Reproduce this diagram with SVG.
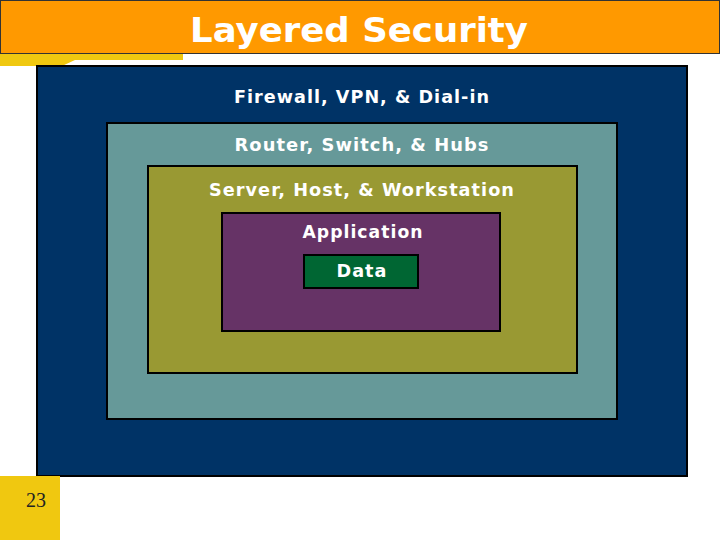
<svg xmlns="http://www.w3.org/2000/svg" width="720" height="540" viewBox="0 0 720 540">
<style>
.lbl{font-family:"DejaVu Sans","Verdana",sans-serif;font-weight:bold;font-size:17px;fill:#ffffff;text-anchor:middle;letter-spacing:1px}
.box{stroke:#000;stroke-width:2}
</style>
<rect width="720" height="540" fill="#ffffff"/>
<g id="header">
<rect x="0.5" y="0.5" width="719" height="53" fill="#ff9900" stroke="#333" stroke-width="1"/>
<polygon points="0,54 183,54 183,60 75,60 62,66 0,66" fill="#f0c810"/>
<text x="359" y="42" font-family="DejaVu Sans, Verdana, sans-serif" font-weight="bold" font-size="33" fill="#ffffff" text-anchor="middle" textLength="338" lengthAdjust="spacingAndGlyphs">Layered Security</text>
</g>
<g id="firewall">
<rect class="box" x="37" y="66" width="650" height="410" fill="#003366"/>
<text class="lbl" x="362" y="103" textLength="256" lengthAdjust="spacingAndGlyphs">Firewall, VPN, &amp; Dial-in</text>
</g>
<g id="router">
<rect class="box" x="107" y="123" width="510" height="296" fill="#669999"/>
<text class="lbl" x="362" y="151" textLength="255" lengthAdjust="spacingAndGlyphs">Router, Switch, &amp; Hubs</text>
</g>
<g id="server">
<rect class="box" x="148" y="166" width="429" height="207" fill="#999933"/>
<text class="lbl" x="362" y="196" textLength="306" lengthAdjust="spacingAndGlyphs">Server, Host, &amp; Workstation</text>
</g>
<g id="application">
<rect class="box" x="222" y="213" width="278" height="118" fill="#663366"/>
<text class="lbl" x="363" y="238" textLength="121" lengthAdjust="spacingAndGlyphs">Application</text>
</g>
<g id="data">
<rect class="box" x="304" y="255" width="114" height="33" fill="#006633"/>
<text class="lbl" x="362" y="277" textLength="51" lengthAdjust="spacingAndGlyphs">Data</text>
</g>
<g id="connectors"></g>
<g id="footer">
<rect x="0" y="476" width="60" height="64" fill="#f0c810"/>
<text x="36" y="507" font-family="Liberation Serif, serif" font-size="20" fill="#222222" text-anchor="middle">23</text>
</g>
</svg>
